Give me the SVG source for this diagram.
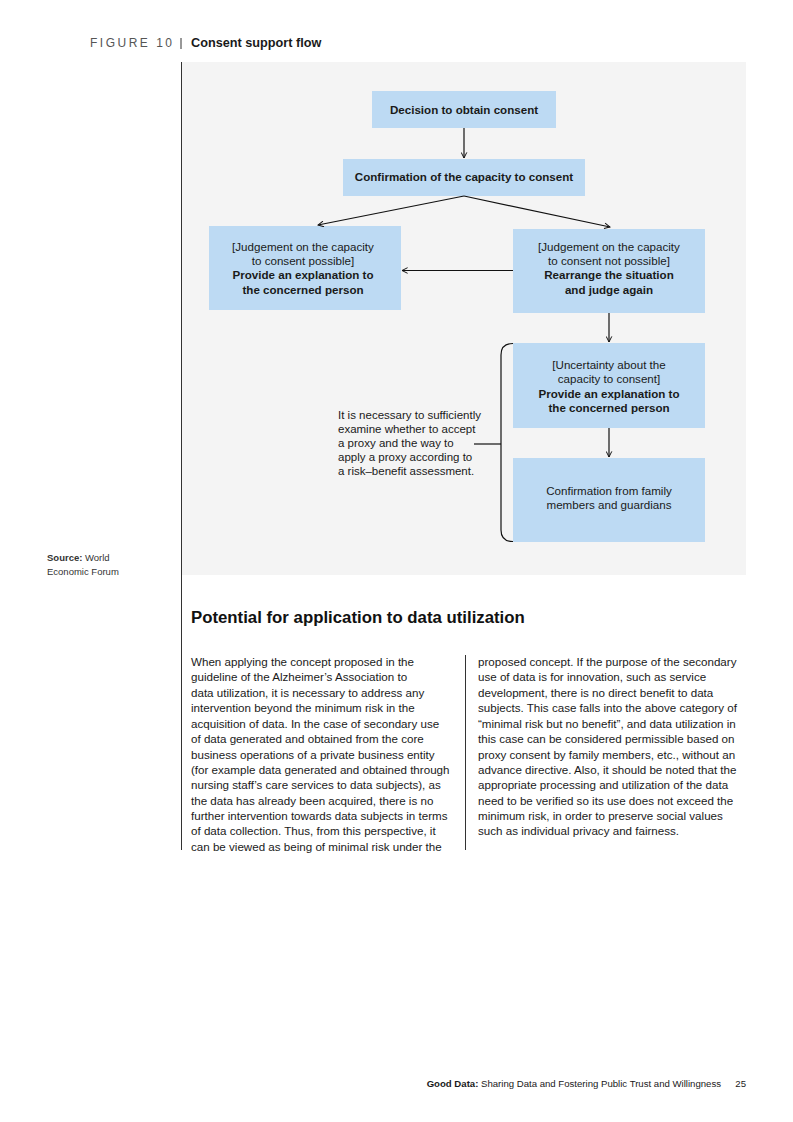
<svg xmlns="http://www.w3.org/2000/svg" width="793" height="1122" viewBox="0 0 793 1122">
<style>
text{font-family:"Liberation Sans",Arial,sans-serif;fill:#1a1a1a}
.box{fill:#bddaf3}
.bt{font-size:11.6px;text-anchor:middle}
.b{font-weight:bold}
.con{stroke:#111;stroke-width:1.2;fill:none}
.body{font-size:11.6px}
.note{font-size:11.5px}
</style>
<defs>
<marker id="ah" viewBox="0 0 10 10" refX="9" refY="5" markerWidth="7" markerHeight="7" orient="auto" markerUnits="userSpaceOnUse">
<path d="M1,1 L9,5 L1,9" fill="none" stroke="#111" stroke-width="1.4"/>
</marker>
</defs>
<rect width="793" height="1122" fill="#fff"/>
<text x="90" y="47" font-size="12" letter-spacing="2.5" style="fill:#555">FIGURE 10</text>
<line x1="181" y1="38" x2="181" y2="49" stroke="#333" stroke-width="1"/>
<text x="191" y="47" font-size="12.7" class="b">Consent support flow</text>
<rect x="182" y="62" width="564" height="513" fill="#f4f4f4"/>
<line x1="181.5" y1="62" x2="181.5" y2="850" stroke="#333" stroke-width="1"/>
<g id="source"><text x="47" y="561" font-size="9.5" style="fill:#333"><tspan class="b">Source:</tspan> World</text><text x="47" y="575" font-size="9.5" style="fill:#333">Economic Forum</text></g>
<g id="n1"><rect class="box" x="372" y="91" width="184" height="37"/><text class="bt b" x="464" y="114">Decision to obtain consent</text></g>
<g id="n2"><rect class="box" x="343" y="159" width="242" height="37"/><text class="bt b" x="464" y="181">Confirmation of the capacity to consent</text></g>
<g id="n3"><rect class="box" x="209" y="226" width="192" height="84"/>
<text class="bt" x="303" y="251">[Judgement on the capacity</text><text class="bt" x="303" y="265">to consent possible]</text>
<text class="bt b" x="303" y="279">Provide an explanation to</text><text class="bt b" x="303" y="294">the concerned person</text></g>
<g id="n4"><rect class="box" x="513" y="229" width="192" height="84"/>
<text class="bt" x="609" y="251">[Judgement on the capacity</text><text class="bt" x="609" y="265">to consent not possible]</text>
<text class="bt b" x="609" y="279">Rearrange the situation</text><text class="bt b" x="609" y="294">and judge again</text></g>
<g id="n5"><rect class="box" x="513" y="343" width="192" height="85"/>
<text class="bt" x="609" y="369">[Uncertainty about the</text><text class="bt" x="609" y="383">capacity to consent]</text>
<text class="bt b" x="609" y="398">Provide an explanation to</text><text class="bt b" x="609" y="412">the concerned person</text></g>
<g id="n6"><rect class="box" x="513" y="458" width="192" height="84"/>
<text class="bt" x="609" y="495">Confirmation from family</text><text class="bt" x="609" y="509">members and guardians</text></g>
<g id="note"><text class="note" x="338" y="419">It is necessary to sufficiently</text><text class="note" x="338" y="433">examine whether to accept</text><text class="note" x="338" y="447">a proxy and the way to</text><text class="note" x="338" y="461">apply a proxy according to</text><text class="note" x="338" y="475">a risk–benefit assessment.</text></g>
<g id="connectors">
<line class="con" x1="464" y1="128" x2="464" y2="158" marker-end="url(#ah)"/>
<line class="con" x1="464" y1="196" x2="318" y2="225" marker-end="url(#ah)"/>
<line class="con" x1="464" y1="196" x2="610" y2="227" marker-end="url(#ah)"/>
<line class="con" x1="513" y1="270.5" x2="402" y2="270.5" marker-end="url(#ah)"/>
<line class="con" x1="609" y1="313" x2="609" y2="342" marker-end="url(#ah)"/>
<line class="con" x1="609" y1="428" x2="609" y2="457" marker-end="url(#ah)"/>
<path class="con" d="M513,343.5 Q501,343.5 501,355 L501,530 Q501,541.5 513,541.5"/>
<line class="con" x1="474" y1="444" x2="501" y2="444"/>
</g>
<text x="191" y="623" font-size="16.8" font-weight="bold" style="fill:#111">Potential for application to data utilization</text>
<line x1="465.5" y1="655" x2="465.5" y2="850" stroke="#333" stroke-width="1"/>
<g style="fill:#333">
<text class="body" x="191" y="666">When applying the concept proposed in the</text>
<text class="body" x="191" y="681">guideline of the Alzheimer’s Association to</text>
<text class="body" x="191" y="697">data utilization, it is necessary to address any</text>
<text class="body" x="191" y="712">intervention beyond the minimum risk in the</text>
<text class="body" x="191" y="728">acquisition of data. In the case of secondary use</text>
<text class="body" x="191" y="743">of data generated and obtained from the core</text>
<text class="body" x="191" y="759">business operations of a private business entity</text>
<text class="body" x="191" y="774">(for example data generated and obtained through</text>
<text class="body" x="191" y="789">nursing staff’s care services to data subjects), as</text>
<text class="body" x="191" y="805">the data has already been acquired, there is no</text>
<text class="body" x="191" y="820">further intervention towards data subjects in terms</text>
<text class="body" x="191" y="835">of data collection. Thus, from this perspective, it</text>
<text class="body" x="191" y="851">can be viewed as being of minimal risk under the</text>
<text class="body" x="478" y="666">proposed concept. If the purpose of the secondary</text>
<text class="body" x="478" y="681">use of data is for innovation, such as service</text>
<text class="body" x="478" y="697">development, there is no direct benefit to data</text>
<text class="body" x="478" y="712">subjects. This case falls into the above category of</text>
<text class="body" x="478" y="728">“minimal risk but no benefit”, and data utilization in</text>
<text class="body" x="478" y="743">this case can be considered permissible based on</text>
<text class="body" x="478" y="759">proxy consent by family members, etc., without an</text>
<text class="body" x="478" y="774">advance directive. Also, it should be noted that the</text>
<text class="body" x="478" y="789">appropriate processing and utilization of the data</text>
<text class="body" x="478" y="805">need to be verified so its use does not exceed the</text>
<text class="body" x="478" y="820">minimum risk, in order to preserve social values</text>
<text class="body" x="478" y="835">such as individual privacy and fairness.</text>
</g>
<text x="721" y="1087" font-size="9.6" text-anchor="end"><tspan class="b">Good Data:</tspan> Sharing Data and Fostering Public Trust and Willingness</text>
<text x="746" y="1087" font-size="9.6" text-anchor="end">25</text>
</svg>
